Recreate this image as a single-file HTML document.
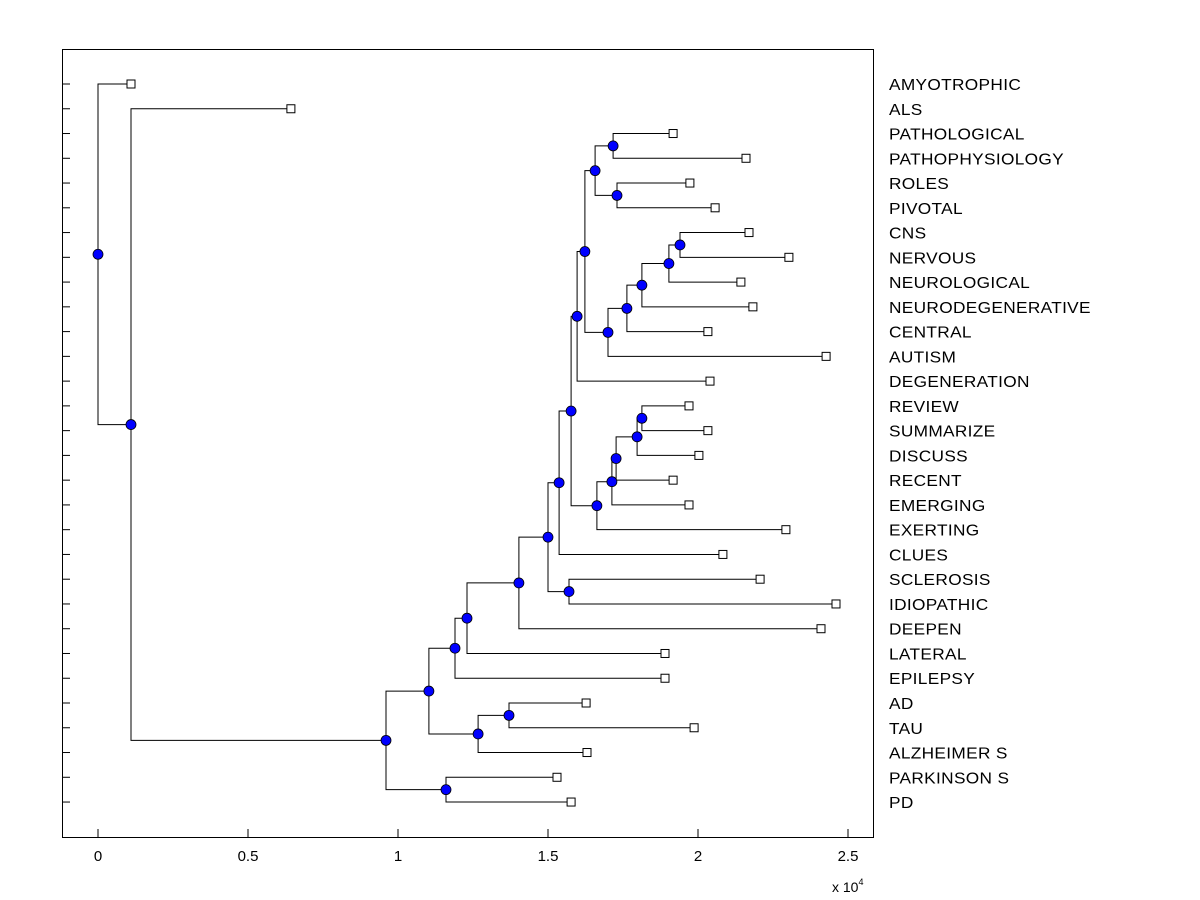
<!DOCTYPE html>
<html><head><meta charset="utf-8"><style>
body{margin:0;background:#fff}
svg{display:block}
text{font-family:"Liberation Sans",Arial,sans-serif;font-size:16px;fill:#000}
</style></head><body>
<svg id="chart" width="1200" height="900" xmlns="http://www.w3.org/2000/svg">
<rect x="0" y="0" width="1200" height="900" fill="#fff"/>
<rect x="62.5" y="49.5" width="811" height="788" fill="#fff" stroke="#000" stroke-width="1"/>
<g id="marks"></g>
<g id="axes"></g>
<text x="832" y="892" style="font-size:14px">x 10<tspan dy="-7" style="font-size:9px">4</tspan></text>
</svg>
<script>
const leafLabels=["AMYOTROPHIC","ALS","PATHOLOGICAL","PATHOPHYSIOLOGY","ROLES","PIVOTAL","CNS","NERVOUS","NEUROLOGICAL","NEURODEGENERATIVE","CENTRAL","AUTISM","DEGENERATION","REVIEW","SUMMARIZE","DISCUSS","RECENT","EMERGING","EXERTING","CLUES","SCLEROSIS","IDIOPATHIC","DEEPEN","LATERAL","EPILEPSY","AD","TAU","ALZHEIMER S","PARKINSON S","PD"];
const leafValues=[0.11,0.643,1.917,2.16,1.973,2.057,2.17,2.303,2.143,2.183,2.033,2.427,2.04,1.97,2.033,2.003,1.917,1.97,2.293,2.083,2.207,2.46,2.41,1.89,1.89,1.627,1.987,1.63,1.53,1.577];
const nodeLeft=[6,30,31,32,33,2,4,35,37,38,13,40,41,42,43,39,45,20,46,48,49,50,25,52,51,28,54,1,0];
const nodeRight=[7,8,9,10,11,3,5,36,34,12,14,15,16,17,18,44,19,21,47,22,23,24,26,27,53,29,55,56,57];
const nodeHeights=[1.94,1.903,1.813,1.763,1.70,1.717,1.73,1.657,1.623,1.597,1.813,1.797,1.727,1.713,1.663,1.577,1.537,1.57,1.50,1.403,1.23,1.19,1.37,1.267,1.103,1.16,0.96,0.11,0.0];
const xTicks=[0,0.5,1,1.5,2,2.5];
const xTickLabels=["0","0.5","1","1.5","2","2.5"];

const NS="http://www.w3.org/2000/svg";
const xScale=v=>98+v*300;
const yScale=i=>84+i*24.76;
const marks=document.getElementById('marks');
const axes=document.getElementById('axes');
function mk(tag,attrs,parent){const e=document.createElementNS(NS,tag);for(const k in attrs)e.setAttribute(k,attrs[k]);parent.appendChild(e);return e;}

const L=leafLabels.length;
const ny=[],nx=[];
for(let i=0;i<L;i++){ny[i]=yScale(i);nx[i]=xScale(leafValues[i]);}
for(let j=0;j<nodeHeights.length;j++){
  const id=L+j,a=nodeLeft[j],b=nodeRight[j];
  nx[id]=xScale(nodeHeights[j]);ny[id]=(ny[a]+ny[b])/2;
  const p=mk('path',{d:`M${nx[a]},${ny[a]}H${nx[id]}V${ny[b]}H${nx[b]}`,fill:'none',stroke:'#000','stroke-width':1},marks);
  
  
}
for(let j=0;j<nodeHeights.length;j++){
  const id=L+j;
  const c=mk('circle',{cx:nx[id],cy:ny[id],r:5,fill:'#0000ff',stroke:'#000','stroke-width':0.8},marks);
  
  
}
for(let i=0;i<L;i++){
  const r=mk('rect',{x:nx[i]-4,y:ny[i]-4,width:8,height:8,fill:'#fff',stroke:'#000','stroke-width':1},marks);
  
  
  const t=mk('line',{x1:62,x2:70,y1:ny[i],y2:ny[i],stroke:'#000','stroke-width':1},axes);
  
  
  const lb=mk('text',{x:889,y:ny[i]+6,style:'font-size:16px;letter-spacing:0.3px',textLength:0},axes);
  lb.removeAttribute('textLength');
  lb.textContent=leafLabels[i];
  
  
  lb.setAttribute('transform',`translate(889,0) scale(1.08,1) translate(-889,0)`);
}
xTicks.forEach((v,k)=>{
  const t=mk('line',{x1:xScale(v),x2:xScale(v),y1:829,y2:837,stroke:'#000','stroke-width':1},axes);
  
  
  const lb=mk('text',{x:xScale(v),y:861,'text-anchor':'middle',style:'font-size:15px'},axes);
  lb.textContent=xTickLabels[k];
  
  
});
</script>
</body></html>
